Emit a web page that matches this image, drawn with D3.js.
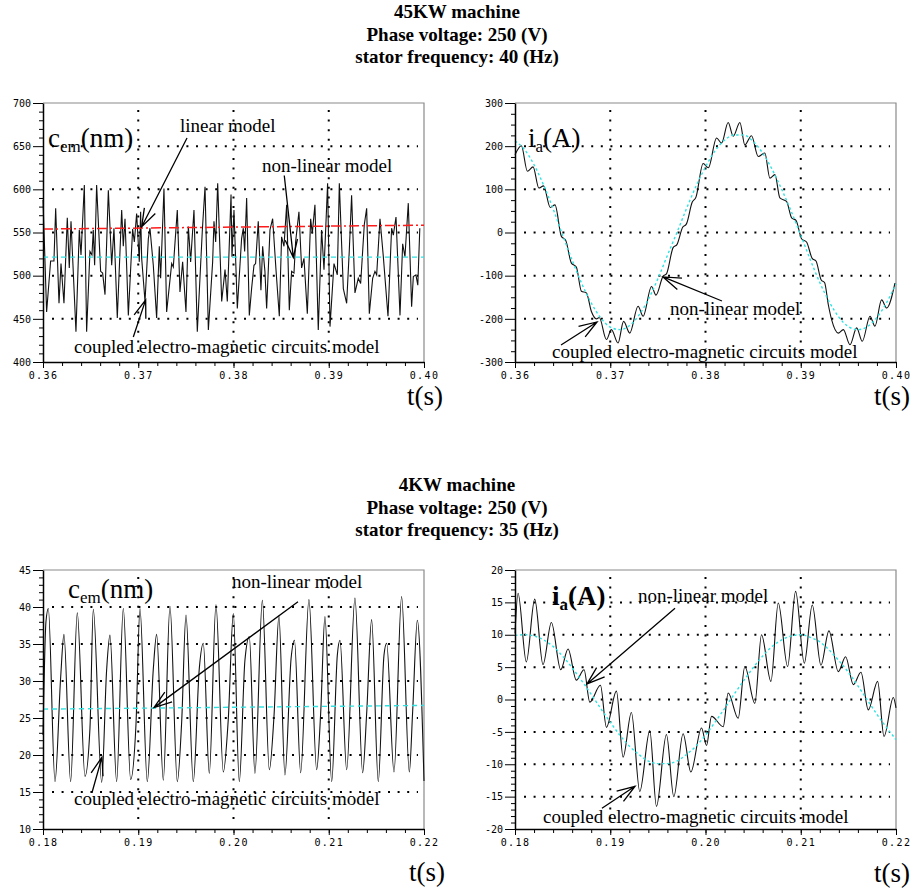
<!DOCTYPE html>
<html>
<head>
<meta charset="utf-8">
<script src="https://cdn.jsdelivr.net/npm/d3@7"></script>
<style>
  body { margin: 0; background: #fff; }
  svg { display: block; }
</style>
</head>
<body>
<svg id="chart" width="915" height="888"></svg>
<script>
// Titles of the two blocks
const titleTop = ["45KW machine", "Phase voltage: 250 (V)", "stator frequency: 40 (Hz)"];
const titleBottom = ["4KW machine", "Phase voltage: 250 (V)", "stator frequency: 35 (Hz)"];

// Tick labels
const xTicks45 = [0.36, 0.37, 0.38, 0.39, 0.40];
const xTicks4 = [0.18, 0.19, 0.20, 0.21, 0.22];
const yTicksCem45 = [400, 450, 500, 550, 600, 650, 700];
const yTicksIa45 = [-300, -200, -100, 0, 100, 200, 300];
const yTicksCem4 = [10, 15, 20, 25, 30, 35, 40, 45];
const yTicksIa4 = [-20, -15, -10, -5, 0, 5, 10, 15, 20];

// 45KW torque, coupled model (t, nm)
const cem45Coupled = [[0.36000,588],[0.36038,458],[0.36080,517],[0.36115,517],[0.36133,578],[0.36168,468],[0.36189,514],[0.36220,468],[0.36255,567],[0.36276,509],[0.36294,563],[0.36346,435],[0.36381,553],[0.36399,524],[0.36434,605],[0.36458,435],[0.36493,528],[0.36514,524],[0.36528,553],[0.36542,512],[0.36563,605],[0.36605,505],[0.36626,503],[0.36651,478],[0.36686,599],[0.36721,512],[0.36745,555],[0.36780,451],[0.36826,576],[0.36843,534],[0.36861,566],[0.36896,454],[0.36941,554],[0.36959,539],[0.36983,572],[0.37011,516],[0.37025,574],[0.37036,520],[0.37071,470],[0.37106,543],[0.37123,555],[0.37158,512],[0.37193,451],[0.37221,534],[0.37235,497],[0.37270,601],[0.37298,458],[0.37351,514],[0.37368,510],[0.37410,576],[0.37438,481],[0.37466,516],[0.37501,458],[0.37526,557],[0.37550,516],[0.37585,576],[0.37620,435],[0.37673,553],[0.37701,603],[0.37736,437],[0.37781,516],[0.37795,563],[0.37813,539],[0.37834,607],[0.37876,470],[0.37911,507],[0.37935,470],[0.37974,594],[0.37984,522],[0.38005,576],[0.38040,462],[0.38085,543],[0.38103,555],[0.38117,528],[0.38138,590],[0.38166,454],[0.38190,485],[0.38215,512],[0.38232,514],[0.38260,563],[0.38288,483],[0.38306,534],[0.38330,505],[0.38348,462],[0.38383,553],[0.38411,566],[0.38446,507],[0.38481,453],[0.38505,545],[0.38530,534],[0.38558,582],[0.38586,460],[0.38610,505],[0.38635,503],[0.38652,539],[0.38687,574],[0.38715,509],[0.38740,520],[0.38775,456],[0.38810,566],[0.38827,549],[0.38855,582],[0.38890,437],[0.38925,553],[0.38950,507],[0.38988,607],[0.39013,441],[0.39055,514],[0.39090,501],[0.39111,607],[0.39153,485],[0.39188,468],[0.39216,530],[0.39240,593],[0.39275,480],[0.39310,497],[0.39335,491],[0.39373,559],[0.39398,578],[0.39426,456],[0.39461,497],[0.39485,505],[0.39503,501],[0.39538,566],[0.39573,522],[0.39622,453],[0.39660,555],[0.39678,547],[0.39706,568],[0.39748,454],[0.39776,537],[0.39800,522],[0.39835,584],[0.39870,464],[0.39888,499],[0.39915,501],[0.39935,489],[0.39956,555]];
const cem45Linear = [[0.36, 554], [0.40, 558.5]];
const cem45NonLinear = [[0.36, 521.5], [0.40, 521.5]];

// 45KW phase current (t, A)
const ia45Coupled = [[0.36000,180],[0.36067,201],[0.36130,142],[0.36190,152],[0.36250,103],[0.36300,108],[0.36370,58],[0.36420,64],[0.36487,-9],[0.36532,-18],[0.36592,-71],[0.36644,-80],[0.36697,-136],[0.36750,-140],[0.36802,-183],[0.36855,-200],[0.36885,-197],[0.36960,-248],[0.37012,-225],[0.37082,-256],[0.37140,-206],[0.37205,-233],[0.37292,-171],[0.37345,-194],[0.37433,-125],[0.37480,-145],[0.37555,-101],[0.37590,-96],[0.37660,-35],[0.37700,-28],[0.37760,12],[0.37800,20],[0.37860,70],[0.37900,82],[0.37975,160],[0.38030,150],[0.38116,219],[0.38168,207],[0.38238,255],[0.38291,223],[0.38361,255],[0.38413,203],[0.38483,224],[0.38553,176],[0.38623,184],[0.38676,126],[0.38729,134],[0.38781,80],[0.38851,72],[0.38904,34],[0.38950,28],[0.39010,-15],[0.39061,-22],[0.39120,-60],[0.39160,-66],[0.39215,-110],[0.39250,-116],[0.39290,-168],[0.39324,-202],[0.39394,-233],[0.39447,-225],[0.39517,-260],[0.39587,-221],[0.39646,-252],[0.39727,-194],[0.39779,-217],[0.39849,-156],[0.39902,-175],[0.39989,-117]];
const ia45NonLinear = [[0.360,212],[0.361,192],[0.362,157],[0.363,110],[0.364,55],[0.365,-6],[0.366,-64],[0.367,-118],[0.368,-163],[0.369,-198],[0.370,-219],[0.371,-225],[0.372,-216],[0.373,-192],[0.374,-155],[0.375,-107],[0.376,-53],[0.377,0],[0.378,55],[0.379,107],[0.380,152],[0.381,189],[0.382,214],[0.383,226],[0.384,226],[0.385,211],[0.386,184],[0.387,146],[0.388,100],[0.389,49],[0.390,-6],[0.391,-63],[0.392,-116],[0.393,-161],[0.394,-196],[0.395,-218],[0.396,-225],[0.397,-218],[0.398,-197],[0.399,-163],[0.400,-119]];

// 4KW torque, coupled model (t, nm)
const cem4Coupled = [[0.18000,22.7],[0.18031,38.0],[0.18056,39.8],[0.18126,16.4],[0.18185,30.4],[0.18220,36.3],[0.18290,16.4],[0.18360,39.2],[0.18441,17.1],[0.18493,23.6],[0.18528,39.7],[0.18616,16.3],[0.18668,31.5],[0.18703,36.2],[0.18773,16.4],[0.18843,39.8],[0.18920,16.7],[0.18976,24.1],[0.19018,39.8],[0.19095,16.4],[0.19158,31.6],[0.19193,36.3],[0.19263,16.6],[0.19333,40.1],[0.19410,16.4],[0.19456,24.5],[0.19501,38.9],[0.19578,16.4],[0.19641,31.7],[0.19683,35.1],[0.19746,17.5],[0.19816,40.3],[0.19893,17.7],[0.19945,24.8],[0.19998,39.1],[0.20061,16.4],[0.20120,32.8],[0.20166,36.0],[0.20225,17.5],[0.20303,40.9],[0.20376,18.0],[0.20425,25.2],[0.20477,38.8],[0.20540,17.3],[0.20605,33.1],[0.20640,35.5],[0.20705,17.6],[0.20792,41.0],[0.20873,18.0],[0.20915,25.6],[0.20960,38.7],[0.21031,16.4],[0.21090,33.5],[0.21118,35.5],[0.21188,18.0],[0.21275,41.2],[0.21356,17.6],[0.21398,25.6],[0.21450,38.3],[0.21520,16.4],[0.21580,33.5],[0.21608,35.1],[0.21685,17.7],[0.21765,41.4],[0.21846,17.7],[0.21881,25.9],[0.21930,38.2],[0.22000,16.5]];
const cem4NonLinear = [[0.18, 26.2], [0.22, 26.7]];

// 4KW phase current (t, A)
const ia4Coupled = [[0.18000,10.2],[0.18032,16.4],[0.18119,5.8],[0.18207,15.5],[0.18294,5.4],[0.18382,11.9],[0.18480,4.6],[0.18557,7.8],[0.18644,3.0],[0.18725,4.6],[0.18785,-0.4],[0.18897,2.2],[0.18960,-4.3],[0.19065,1.3],[0.19135,-8.9],[0.19222,-2.0],[0.19310,-14.2],[0.19415,-4.8],[0.19485,-16.5],[0.19590,-5.4],[0.19667,-15.0],[0.19765,-5.3],[0.19846,-11.2],[0.19958,-4.4],[0.20011,-7.1],[0.20063,-2.6],[0.20186,-4.2],[0.20238,1.0],[0.20343,-2.9],[0.20413,5.1],[0.20518,-0.6],[0.20588,10.0],[0.20687,2.8],[0.20764,14.9],[0.20862,5.1],[0.20946,16.7],[0.21037,5.6],[0.21121,14.6],[0.21212,5.3],[0.21296,10.6],[0.21394,4.3],[0.21471,6.6],[0.21552,2.3],[0.21632,4.2],[0.21709,-1.6],[0.21807,2.8],[0.21874,-5.7],[0.21972,0.3],[0.22000,-1.3]];
const ia4NonLinear = [[0.180,9.9],[0.181,10.0],[0.182,9.8],[0.183,9.2],[0.184,8.2],[0.185,6.7],[0.186,4.9],[0.187,2.9],[0.188,0.8],[0.189,-1.4],[0.190,-3.5],[0.191,-5.5],[0.192,-7.2],[0.193,-8.5],[0.194,-9.5],[0.195,-9.9],[0.196,-9.9],[0.197,-9.5],[0.198,-8.5],[0.199,-7.2],[0.200,-5.5],[0.201,-3.5],[0.202,-1.4],[0.203,0.8],[0.204,2.9],[0.205,4.9],[0.206,6.7],[0.207,8.2],[0.208,9.2],[0.209,9.8],[0.210,10.0],[0.211,9.6],[0.212,8.9],[0.213,7.6],[0.214,6.0],[0.215,4.2],[0.216,2.1],[0.217,-0.1],[0.218,-2.3],[0.219,-4.3],[0.220,-6.2]];

const svg = d3.select("#chart");
const W = 381, H = 259;
const serif = "'Liberation Serif', 'Times New Roman', serif";
const mono = "'DejaVu Sans Mono', monospace";

// Block titles
function drawTitle(lines, y0) {
  svg.append("g").selectAll("text")
    .data(lines)
    .join("text")
    .attr("x", 457)
    .attr("y", (d, i) => y0 + i * 22.5)
    .attr("text-anchor", "middle")
    .style("font-family", serif)
    .style("font-weight", "bold")
    .style("font-size", "19px")
    .text(d => d);
}
drawTitle(titleTop, 18);
drawTitle(titleBottom, 491);

// Open arrow: shaft plus two barbs at the tip
function arrow(g, x1, y1, x2, y2) {
  const a = Math.atan2(y1 - y2, x1 - x2);
  const len = 19, spread = 0.33;
  const path = d3.path();
  path.moveTo(x1, y1); path.lineTo(x2, y2);
  path.moveTo(x2 + len * Math.cos(a - spread), y2 + len * Math.sin(a - spread));
  path.lineTo(x2, y2);
  path.lineTo(x2 + len * Math.cos(a + spread), y2 + len * Math.sin(a + spread));
  g.append("path").attr("d", path.toString())
    .attr("fill", "none").attr("stroke", "#000").attr("stroke-width", 1.3);
}

function drawPanel(p) {
  const g = svg.append("g");
  const x = d3.scaleLinear().domain(p.xDomain).range([p.left, p.left + W]);
  const y = d3.scaleLinear().domain(p.yDomain).range([p.top + H, p.top]);

  // grey top / right frame
  g.append("path")
    .attr("d", `M${p.left},${p.top}H${p.left + W}V${p.top + H}`)
    .attr("fill", "none").attr("stroke", "#8a8a8a").attr("stroke-width", 1.2);

  // dotted grid on inner major ticks
  g.selectAll(".hgrid").data(p.yTicks.slice(1, -1)).join("line")
    .attr("x1", p.left + 9).attr("x2", p.left + W - 6)
    .attr("y1", d => y(d)).attr("y2", d => y(d))
    .attr("stroke", "#000").attr("stroke-width", 2).attr("stroke-dasharray", "2,7.6");
  g.selectAll(".vgrid").data(p.xTicks.slice(1, -1)).join("line")
    .attr("x1", d => x(d)).attr("x2", d => x(d))
    .attr("y1", p.top + 7).attr("y2", p.top + H - 4)
    .attr("stroke", "#000").attr("stroke-width", 2).attr("stroke-dasharray", "2,7.6");

  // curves
  const line = d3.line().x(d => x(d[0])).y(d => y(d[1])).curve(p.curve);
  g.append("path").datum(p.coupled).attr("d", line)
    .attr("fill", "none").attr("stroke", "#111").attr("stroke-width", 1.1);
  g.append("path").datum(p.nonLinear)
    .attr("d", d3.line().x(d => x(d[0])).y(d => y(d[1])).curve(d3.curveMonotoneX))
    .attr("fill", "none").attr("stroke", "#2fe2e2").attr("stroke-width", 1.4)
    .attr("stroke-dasharray", p.cyanDash);
  if (p.linear) {
    g.append("path").datum(p.linear)
      .attr("d", d3.line().x(d => x(d[0])).y(d => y(d[1])))
      .attr("fill", "none").attr("stroke", "#ff1a1a").attr("stroke-width", 1.5)
      .attr("stroke-dasharray", "10,3,2,3");
  }

  // y axis, major + minor
  const minorY = d3.range(p.yDomain[0], p.yDomain[1] + 1e-9, p.yMinor).filter(v => !p.yTicks.includes(+v.toFixed(6)));
  g.append("g").attr("transform", `translate(${p.left},0)`)
    .call(d3.axisLeft(y).tickValues(minorY).tickSize(4).tickFormat(""))
    .call(a => a.select(".domain").remove());
  const ya = g.append("g").attr("transform", `translate(${p.left},0)`)
    .call(d3.axisLeft(y).tickValues(p.yTicks).tickSize(10).tickSizeOuter(0).tickPadding(2).tickFormat(d => String(d)));
  ya.selectAll("text").style("font-family", mono).style("font-size", "10px").attr("fill", "#000");

  // x axis, major + minor
  const minorX = d3.range(0, 21).map(i => p.xDomain[0] + i * 0.002);
  g.append("g").attr("transform", `translate(0,${p.top + H})`)
    .call(d3.axisBottom(x).tickValues(minorX).tickSize(4).tickFormat(""))
    .call(a => a.select(".domain").remove());
  const xa = g.append("g").attr("transform", `translate(0,${p.top + H})`)
    .call(d3.axisBottom(x).tickValues(p.xTicks).tickSize(6).tickSizeOuter(0).tickPadding(4).tickFormat(d3.format(".2f")));
  xa.selectAll("text").style("font-family", mono).style("font-size", "10px")
    .style("letter-spacing", "1.4px").attr("fill", "#000");
  g.selectAll(".domain").attr("stroke-width", 1.5);

  // y label inside plot
  const yl = g.append("text")
    .attr("x", p.left + p.yLabel.dx).attr("y", p.top + p.yLabel.dy)
    .style("font-family", serif).style("font-size", "27px")
    .style("font-weight", p.yLabel.bold ? "bold" : "normal");
  yl.append("tspan").text(p.yLabel.main);
  yl.append("tspan").attr("dy", 5).style("font-size", "17px").text(p.yLabel.sub);
  yl.append("tspan").attr("dy", -5).text(p.yLabel.rest);

  // time label
  g.append("text")
    .attr("x", p.left + W + p.tLabel[0]).attr("y", p.top + H + p.tLabel[1])
    .attr("text-anchor", "end")
    .style("font-family", serif).style("font-size", "27px")
    .text("t(s)");

  // annotations
  p.notes.forEach(n => {
    g.append("text").attr("x", x(n.at[0])).attr("y", y(n.at[1]))
      .style("font-family", serif).style("font-size", "19px").text(n.text);
  });
  p.arrows.forEach(a => arrow(g, x(a[0]), y(a[1]), x(a[2]), y(a[3])));
}

const coupledText = "coupled electro-magnetic circuits model";

drawPanel({
  left: 43, top: 103, xDomain: [0.36, 0.40], yDomain: [400, 700],
  xTicks: xTicks45, yTicks: yTicksCem45, yMinor: 10,
  coupled: cem45Coupled, nonLinear: cem45NonLinear, linear: cem45Linear,
  curve: d3.curveLinear, cyanDash: "5,4",
  yLabel: { main: "c", sub: "em", rest: "(nm)", dx: 5, dy: 44 },
  tLabel: [19, 43],
  notes: [
    { text: "linear model", at: [0.37438, 666] },
    { text: "non-linear model", at: [0.38299, 620] },
    { text: coupledText, at: [0.36325, 410.5] }
  ],
  arrows: [
    [0.37512, 659.5, 0.37036, 556.7],
    [0.38533, 616, 0.38628, 521],
    [0.36948, 429, 0.37078, 472]
  ]
});

drawPanel({
  left: 515, top: 103, xDomain: [0.36, 0.40], yDomain: [-300, 300],
  xTicks: xTicks45, yTicks: yTicksIa45, yMinor: 25,
  coupled: ia45Coupled, nonLinear: ia45NonLinear,
  curve: d3.curveMonotoneX, cyanDash: "2.5,2.5",
  yLabel: { main: "i", sub: "a", rest: "(A)", dx: 13, dy: 44 },
  tLabel: [14, 43],
  notes: [
    { text: "non-linear model", at: [0.37627, -191] },
    { text: coupledText, at: [0.36388, -290] }
  ],
  arrows: [
    [0.38173, -158.7, 0.37554, -103],
    [0.36483, -260.6, 0.36861, -207.3]
  ]
});

drawPanel({
  left: 43, top: 570, xDomain: [0.18, 0.22], yDomain: [10, 45],
  xTicks: xTicks4, yTicks: yTicksCem4, yMinor: 1,
  coupled: cem4Coupled, nonLinear: cem4NonLinear,
  curve: d3.curveMonotoneX, cyanDash: "5,4",
  yLabel: { main: "c", sub: "em", rest: "(nm)", dx: 25, dy: 28 },
  tLabel: [21, 52],
  notes: [
    { text: "non-linear model", at: [0.19984, 42.6] },
    { text: coupledText, at: [0.18325, 13.2] }
  ],
  arrows: [
    [0.20677, 40.7, 0.19165, 26.4],
    [0.18514, 14.9, 0.18619, 19.7]
  ]
});

drawPanel({
  left: 515, top: 570, xDomain: [0.18, 0.22], yDomain: [-20, 20],
  xTicks: xTicks4, yTicks: yTicksIa4, yMinor: 1,
  coupled: ia4Coupled, nonLinear: ia4NonLinear,
  curve: d3.curveMonotoneX, cyanDash: "2.5,2.5",
  yLabel: { main: "i", sub: "a", rest: "(A)", dx: 37, dy: 35, bold: true },
  tLabel: [14, 53],
  notes: [
    { text: "non-linear model", at: [0.19291, 15.1] },
    { text: coupledText, at: [0.18294, -19.1] }
  ],
  arrows: [
    [0.19680, 14.1, 0.18756, 2.4],
    [0.18913, -16.8, 0.19260, -13.4]
  ]
});
</script>
</body>
</html>
